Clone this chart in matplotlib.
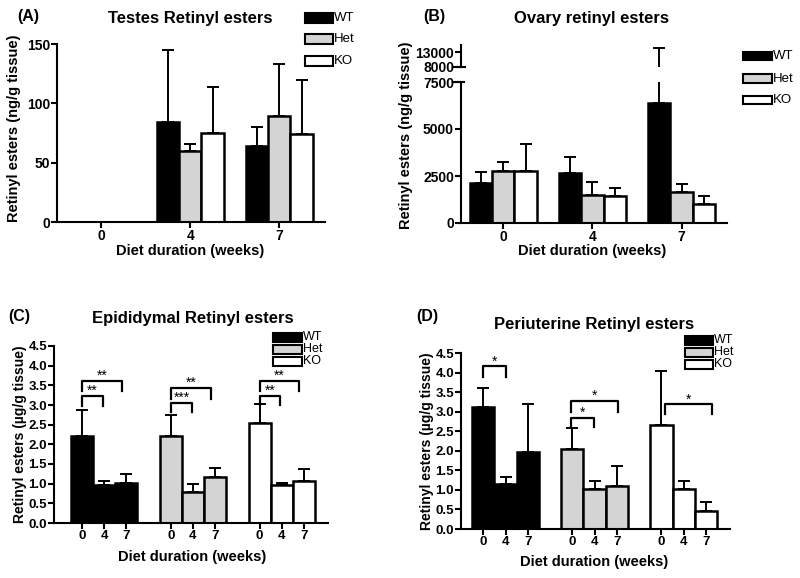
import matplotlib
matplotlib.use('Agg')
import matplotlib.pyplot as plt
from matplotlib.patches import Rectangle
import numpy as np

plt.rcParams['font.family'] = 'Liberation Sans'
plt.rcParams['font.weight'] = 'bold'

# Dados
genotipos = ['WT', 'Het', 'KO']
cores = ['black', '#d4d4d4', 'white']
semanas = ['0', '4', '7']

# (A) testiculo, ng/g tecido (semanas 0, 4, 7)
testes_wt = [0, 84, 64]
testes_wt_err = [0, 61, 16]
testes_het = [0, 60, 89]
testes_het_err = [0, 6, 44]
testes_ko = [0, 75, 74]
testes_ko_err = [0, 39, 46]

# (B) ovario, ng/g tecido
ovario_wt = [2110, 2640, 6380]
ovario_wt_err = [590, 850, 8120]
ovario_het = [2770, 1490, 1670]
ovario_het_err = [460, 670, 400]
ovario_ko = [2770, 1440, 1010]
ovario_ko_err = [1410, 400, 440]

# (C) epididimo, ug/g tecido
epid_wt = [2.20, 0.96, 1.02]
epid_wt_err = [0.68, 0.11, 0.22]
epid_het = [2.20, 0.80, 1.16]
epid_het_err = [0.55, 0.19, 0.24]
epid_ko = [2.55, 0.96, 1.07]
epid_ko_err = [0.47, 0.06, 0.31]

# (D) periuterino, ug/g tecido
peri_wt = [3.12, 1.15, 1.96]
peri_wt_err = [0.49, 0.17, 1.23]
peri_het = [2.04, 1.03, 1.09]
peri_het_err = [0.53, 0.21, 0.51]
peri_ko = [2.66, 1.03, 0.45]
peri_ko_err = [1.38, 0.21, 0.23]

# colchetes de significancia: (x1, x2, altura, ponta, texto)
sig_epid = [(0, 0.95, 3.24, 2.98, '**'), (0, 1.8, 3.62, 3.36, '**'),
            (4, 4.97, 3.06, 2.83, '***'), (4, 5.82, 3.44, 3.15, '**'),
            (8, 8.94, 3.24, 3.00, '**'), (8, 9.78, 3.62, 3.35, '**')]
sig_peri = [(0, 1.04, 4.16, 3.89, '*'),
            (3.93, 4.97, 2.85, 2.62, '*'), (3.93, 6.05, 3.28, 3.00, '*'),
            (8.14, 10.26, 3.19, 2.94, '*')]

W, H = 800, 578
fig = plt.figure(figsize=(8, 5.78), dpi=100)


def caixa(l, t, r, b):
    return fig.add_axes([l / W, 1 - b / H, (r - l) / W, (b - t) / H])


def texto(x, y, s, **kw):
    fig.text(x / W, 1 - y / H, s, ha='center', va='center', **kw)


def estilo(ax, fs=10):
    ax.spines[['top', 'right']].set_visible(False)
    ax.spines[['left', 'bottom']].set_linewidth(1.5)
    ax.tick_params(width=1.5, length=4, labelsize=fs, pad=1)


def barras(ax, x, h, e, cor):
    ax.bar(x, h, width=1, color=cor, edgecolor='black', linewidth=1.8, zorder=2)
    ax.errorbar(x, h, yerr=[np.zeros(len(e)), e], fmt='none', ecolor='black',
                elinewidth=1.4, capsize=4.5, capthick=1.4, zorder=1)


def legenda(x0, ys, pw, ph, fs):
    for cor, nome, y in zip(cores, genotipos, ys):
        fig.add_artist(Rectangle((x0 / W, 1 - (y + ph / 2) / H), pw / W, ph / H,
                                 transform=fig.transFigure, facecolor=cor,
                                 edgecolor='black', lw=1.5))
        fig.text((x0 + pw + 1) / W, 1 - y / H, nome, ha='left', va='center',
                 fontsize=fs, fontweight='normal')


def colchetes(ax, lista):
    for x1, x2, y, ponta, s in lista:
        ax.plot([x1, x1, x2, x2], [ponta, y, y, ponta], color='black', lw=1.6)
        ax.annotate(s, xy=((x1 + x2) / 2, y), xytext=(0, 0.5), textcoords='offset points',
                    ha='center', va='baseline', fontsize=10, fontweight='normal')


# ---------- (A) ----------
ax = caixa(57, 44, 325, 222)
estilo(ax)
grupos = np.arange(3) * 4
for k, (m, e) in enumerate([(testes_wt, testes_wt_err), (testes_het, testes_het_err),
                            (testes_ko, testes_ko_err)]):
    barras(ax, grupos + k, m, e, cores[k])
ax.set_xlim(-0.99, 11.05)
ax.set_ylim(0, 150)
ax.set_yticks([0, 50, 100, 150])
ax.set_xticks(grupos + 1, semanas)
texto(28, 16, '(A)', fontsize=11.5)
texto(190, 19, 'Testes Retinyl esters', fontsize=12)
texto(14, 128, 'Retinyl esters (ng/g tissue)', fontsize=10.5, rotation=90)
texto(190, 251, 'Diet duration (weeks)', fontsize=10.5)
legenda(305, [18, 39, 61], 28, 9, 9.5)

# ---------- (B) ----------
ax_b = caixa(461, 82, 727, 223)
ax_t = caixa(461, 45, 727, 67)
estilo(ax_b)
estilo(ax_t)
ax_t.spines['bottom'].set_visible(False)
for k, (m, e) in enumerate([(ovario_wt, ovario_wt_err), (ovario_het, ovario_het_err),
                            (ovario_ko, ovario_ko_err)]):
    barras(ax_b, grupos + k, m, e, cores[k])
    barras(ax_t, grupos + k, m, e, cores[k])
for a in (ax_b, ax_t):
    a.set_xlim(-0.9, 11.04)
ax_b.set_ylim(0, 7500)
ax_b.set_yticks([0, 2500, 5000, 7500])
ax_b.set_xticks(grupos + 1, semanas)
ax_t.set_ylim(8000, 15500)
ax_t.set_yticks([8000, 13000])
ax_t.set_xticks([])
ax_b.plot([-0.03, 0.01], [1, 1], transform=ax_b.transAxes, color='black', lw=1.5, clip_on=False)
ax_t.plot([-0.03, 0.015], [0, 0], transform=ax_t.transAxes, color='black', lw=1.5, clip_on=False)
texto(434, 16, '(B)', fontsize=11.5)
texto(592, 19, 'Ovary retinyl esters', fontsize=12)
texto(406, 135, 'Retinyl esters (ng/g tissue)', fontsize=10.5, rotation=90)
texto(592, 251, 'Diet duration (weeks)', fontsize=10.5)
legenda(743, [56, 78.5, 100], 29, 8.5, 9.5)

# ---------- (C) ----------
ax = caixa(54, 346, 328, 523)
estilo(ax, 9.5)
pos = np.arange(3)
for k, (m, e) in enumerate([(epid_wt, epid_wt_err), (epid_het, epid_het_err),
                            (epid_ko, epid_ko_err)]):
    barras(ax, pos + 4 * k, m, e, cores[k])
ax.set_xlim(-1.26, 11.08)
ax.set_ylim(0, 4.5)
ax.set_yticks(np.arange(0, 4.6, 0.5))
ax.set_xticks(np.concatenate([pos, pos + 4, pos + 8]), semanas * 3)
colchetes(ax, sig_epid)
texto(19, 316, '(C)', fontsize=11.5)
texto(193, 319, 'Epididymal Retinyl esters', fontsize=12)
texto(20, 434, 'Retinyl esters (µg/g tissue)', fontsize=10, rotation=90)
texto(192, 557, 'Diet duration (weeks)', fontsize=10.5)
legenda(273, [337.5, 349.5, 361.5], 29, 8.5, 9)

# ---------- (D) ----------
ax = caixa(461, 353, 730, 529)
estilo(ax, 9.5)
for k, (m, e) in enumerate([(peri_wt, peri_wt_err), (peri_het, peri_het_err),
                            (peri_ko, peri_ko_err)]):
    barras(ax, pos + 4 * k, m, e, cores[k])
ax.set_xlim(-1.0, 11.08)
ax.set_ylim(0, 4.5)
ax.set_yticks(np.arange(0, 4.6, 0.5))
ax.set_xticks(np.concatenate([pos, pos + 4, pos + 8]), semanas * 3)
colchetes(ax, sig_peri)
texto(427, 316, '(D)', fontsize=11.5)
texto(594, 325, 'Periuterine Retinyl esters', fontsize=12)
texto(427, 441, 'Retinyl esters (µg/g tissue)', fontsize=10, rotation=90)
texto(594, 562, 'Diet duration (weeks)', fontsize=10.5)
legenda(685, [340, 352, 364], 28, 9, 9)

fig.savefig('out.png', dpi=100)
